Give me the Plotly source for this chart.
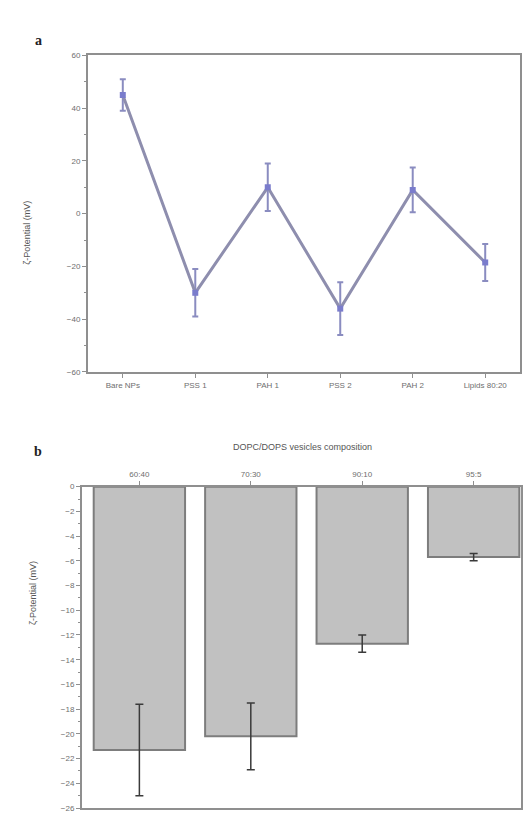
import plotly.graph_objects as go

# Panel a data
stages = ["Bare NPs", "PSS 1", "PAH 1", "PSS 2", "PAH 2", "Lipids 80:20"]
zeta_a = [45, -30, 10, -36, 9, -18.5]
err_a = [6, 9, 9, 10, 8.5, 7]

# Panel b data
compositions = ["60:40", "70:30", "90:10", "95:5"]
zeta_b = [-21.3, -20.2, -12.7, -5.7]
err_b = [3.7, 2.7, 0.7, 0.3]

W, H = 525, 820
def py(pix):
    return 1 - pix / H

FONT = "Liberation Sans, Arial, sans-serif"
TXT = "#6e6e6e"

fig = go.Figure()

fig.add_trace(go.Scatter(
    x=stages, y=zeta_a, mode="lines+markers",
    line=dict(color="#8e8eae", width=3),
    marker=dict(symbol="square", size=6, color="#7a7ccc"),
    error_y=dict(type="data", array=err_a, color="#8a8cc0", thickness=2, width=3),
    xaxis="x", yaxis="y", showlegend=False,
))

fig.add_trace(go.Bar(
    x=compositions, y=zeta_b, width=0.82,
    marker=dict(color="#c1c1c1", line=dict(color="#7d7d7d", width=2)),
    error_y=dict(type="data", array=err_b, color="#3a3a3a", thickness=1.5, width=4),
    xaxis="x2", yaxis="y2", showlegend=False,
))

axis_common = dict(
    showgrid=False, zeroline=False, showline=True, linecolor="#8f8f8f", linewidth=2,
    mirror=True, ticks="outside", tickcolor="#8f8f8f", ticklen=4,
    tickfont=dict(family=FONT, size=8, color=TXT),
)

fig.update_layout(
    width=W, height=H,
    margin=dict(l=0, r=0, t=0, b=0),
    paper_bgcolor="white", plot_bgcolor="white",
    xaxis=dict(domain=[88 / W, 520 / W], anchor="y", type="category",
               range=[-0.48, 5.48], **axis_common),
    yaxis=dict(domain=[py(372), py(52)], anchor="x", range=[-60, 60],
               tickvals=[-60, -40, -20, 0, 20, 40, 60],
               minor=dict(dtick=10, ticks="outside", ticklen=2, tickcolor="#8f8f8f"),
               **axis_common),
    xaxis2=dict(domain=[82 / W, 521 / W], anchor="y2", type="category", side="top",
                range=[-0.515, 3.425], **axis_common),
    yaxis2=dict(domain=[py(813), py(488)], anchor="x2", range=[-26, 0],
                tickvals=list(range(-26, 1, 2)),
                minor=dict(dtick=1, ticks="outside", ticklen=2, tickcolor="#8f8f8f"),
                **axis_common),
    annotations=[
        dict(text="<b>a</b>", x=33 / W, y=py(27), xref="paper", yref="paper",
             showarrow=False, font=dict(family="Liberation Serif, serif", size=14, color="#222")),
        dict(text="<b>b</b>", x=32 / W, y=py(452), xref="paper", yref="paper",
             showarrow=False, font=dict(family="Liberation Serif, serif", size=14, color="#222")),
        dict(text="ζ-Potential (mV)", x=20 / W, y=py(197), xref="paper", yref="paper",
             textangle=-90, showarrow=False, font=dict(family=FONT, size=9, color="#555")),
        dict(text="ζ-Potential (mV)", x=26 / W, y=py(630), xref="paper", yref="paper",
             textangle=-90, showarrow=False, font=dict(family=FONT, size=9, color="#555")),
        dict(text="DOPC/DOPS vesicles composition", x=302 / W, y=py(448), xref="paper",
             yref="paper", showarrow=False, font=dict(family=FONT, size=9, color="#555")),
    ],
)

fig.write_html(
    "out.html",
    config={"displayModeBar": False},
    post_script="document.body.style.margin='0';document.body.style.overflow='hidden';",
)
